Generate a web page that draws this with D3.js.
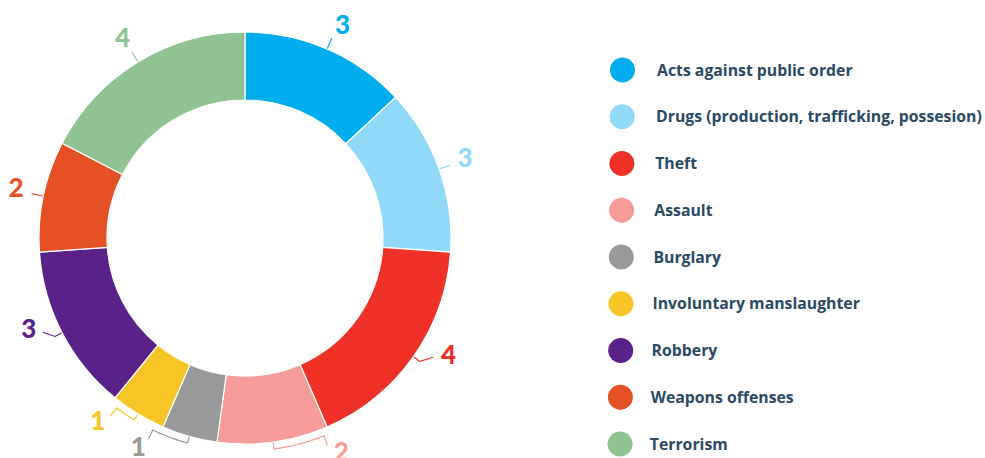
<!DOCTYPE html>
<html>
<head>
<meta charset="utf-8">
<script src="https://cdn.jsdelivr.net/npm/d3@7"></script>
<style>
  html, body { margin: 0; padding: 0; background: #ffffff; }
  svg { display: block; }
</style>
</head>
<body>
<svg id="chart" width="985" height="458"></svg>
<script>
// ---- data ----
const categories = [
  "Acts against public order",
  "Drugs (production, trafficking, possesion)",
  "Theft",
  "Assault",
  "Burglary",
  "Involuntary manslaughter",
  "Robbery",
  "Weapons offenses",
  "Terrorism"
];
const values = [3, 3, 4, 2, 1, 1, 3, 2, 4];
const colors = ["#00aeef", "#91d9f8", "#ef3127", "#f69c98", "#999999", "#f7c526", "#5a2189", "#e55025", "#8fc391"];

// label layout (degrees offset from slice middle), styling only
const connectorShift = [0, 0, -2.9, -13.9, 10.0, 5.8, 2.4, 0, 0];
const labelShift     = [1.1, -0.6, -5.5, -16.4, 11.4, 7.6, 4.6, 0.7, -0.2];

// ---- layout ----
const svg = d3.select("#chart");
const cx = 245, cy = 238;
const rOuter = 206, rInner = 138;

const pie = d3.pie().value(d => d).sort(null);
const arcs = pie(values);
const arc = d3.arc().innerRadius(rInner).outerRadius(rOuter);

const g = svg.append("g").attr("transform", `translate(${cx},${cy})`);

g.selectAll("path.slice")
  .data(arcs)
  .enter().append("path")
  .attr("class", "slice")
  .attr("d", arc)
  .attr("fill", (d, i) => colors[i])
  .attr("stroke", "#ffffff")
  .attr("stroke-width", 1.2);

const rad = deg => deg * Math.PI / 180;
const polar = (r, a) => [r * Math.sin(a), -r * Math.cos(a)];

// connectors
arcs.forEach((d, i) => {
  const mid = (d.startAngle + d.endAngle) / 2;
  const shift = connectorShift[i];
  const ca = mid + rad(shift);
  let pts;
  if (shift === 0) {
    pts = [polar(rOuter + 0.5, mid), polar(218, mid)];
  } else if (Math.abs(shift) < 4) {
    pts = [polar(rOuter + 0.5, mid), polar(214, mid), polar(223, ca)];
  } else {
    const r1 = 213;
    pts = [polar(rOuter + 0.5, mid), polar(r1, mid)];
    const steps = 12;
    for (let s = 1; s <= steps; s++) {
      pts.push(polar(r1, mid + (ca - mid) * s / steps));
    }
    pts.push(polar(223, ca));
  }
  g.append("path")
    .attr("d", d3.line()(pts))
    .attr("fill", "none")
    .attr("stroke", colors[i])
    .attr("stroke-width", 1.2);
});

// value labels
const labelR = 234.5;
const labelSize = 26;
g.selectAll("text.val")
  .data(arcs)
  .enter().append("text")
  .attr("class", "val")
  .attr("x", (d, i) => polar(labelR, (d.startAngle + d.endAngle) / 2 + rad(labelShift[i]))[0])
  .attr("y", (d, i) => polar(labelR, (d.startAngle + d.endAngle) / 2 + rad(labelShift[i]))[1] + labelSize * 0.36)
  .attr("text-anchor", "middle")
  .attr("font-family", "Lato, 'Open Sans', sans-serif")
  .attr("font-weight", 900)
  .attr("font-size", labelSize)
  .attr("fill", (d, i) => colors[i])
  .text(d => d.data);

// legend
const legendY = d3.scalePoint().domain(categories).range([70, 444]);
const legend = svg.append("g");
const items = legend.selectAll("g.item")
  .data(categories)
  .enter().append("g")
  .attr("class", "item");

items.append("circle")
  .attr("cx", (d, i) => 622.5 - i * 0.3)
  .attr("cy", d => legendY(d))
  .attr("r", 12.5)
  .attr("fill", (d, i) => colors[i]);

items.append("text")
  .attr("x", (d, i) => 657 - i * 0.9)
  .attr("y", d => legendY(d) + 5.5)
  .attr("font-family", "'Open Sans', sans-serif")
  .attr("font-weight", 700)
  .attr("font-size", 15.8)
  .attr("fill", "#2a4964")
  .text(d => d);
</script>
</body>
</html>
